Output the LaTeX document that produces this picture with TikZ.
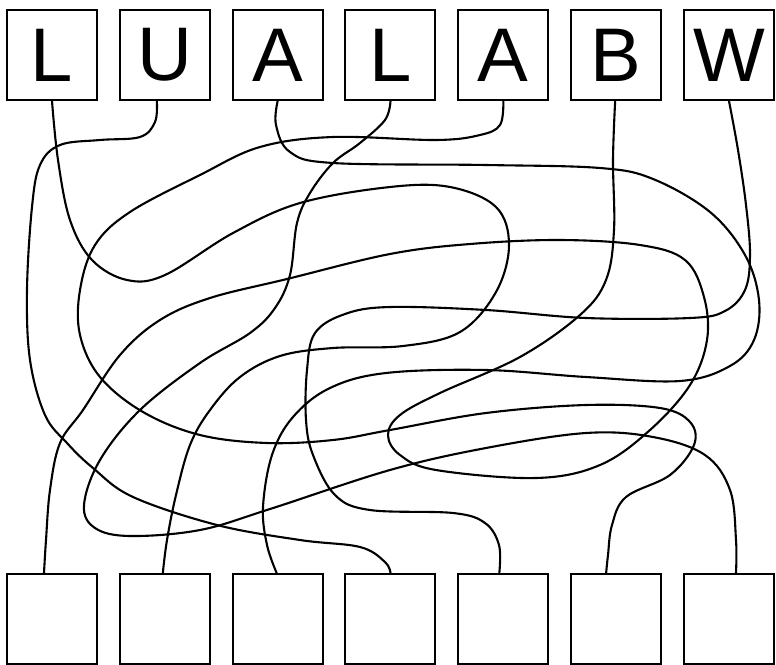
\documentclass[tikz,border=0pt]{standalone}
\usepackage{fontspec}
\setmainfont{Liberation Sans}
\begin{document}
\begin{tikzpicture}[x=1pt,y=-1pt,
  tbox/.style={draw,line width=2pt,minimum size=90pt,inner sep=0pt,font=\fontsize{76}{76}\selectfont},
  bbox/.style={draw,line width=2pt,minimum size=90pt,inner sep=0pt},
  wire/.style={line width=2.1pt,line join=round,line cap=round}]
\useasboundingbox (0,0) rectangle (776,664);
\foreach \i/\l in {1/L,2/U,3/A,4/L,5/A,6/B,7/W}{
  \node[tbox] (t\i) at ({52+112.83*(\i-1)},55) {\l};
  \node[bbox] (b\i) at ({52+112.83*(\i-1)},619) {};
}
% ports
\coordinate (p1) at (t1.south);
\coordinate (p2) at ([xshift=-8pt]t2.south);
\coordinate (p3) at (t3.south);
\coordinate (p4) at (t4.south);
\coordinate (p5) at (t5.south);
\coordinate (p6) at ([xshift=-1pt]t6.south);
\coordinate (p7) at (t7.south);
\coordinate (q1) at ([xshift=-8pt]b1.north);
\coordinate (q2) at ([xshift=-2pt]b2.north);
\coordinate (q3) at ([xshift=-1pt]b3.north);
\coordinate (q4) at (b4.north);
\coordinate (q5) at ([xshift=-4pt]b5.north);
\coordinate (q6) at ([xshift=-10pt]b6.north);
\coordinate (q7) at ([xshift=7pt]b7.north);
% L -> box 2
\draw[wire] plot[smooth,tension=0.6] coordinates {(p1) (58,160) (70,220) (92,260) (127,280) (165,275) (233,233) (300,203) (390,187) (450,187) (496,207) (509,245) (496,292) (460,332) (403,346) (333,348) (280,356) (240,377) (210,410) (190,445) (176,495) (167,540) (q2)};
% U -> box 4
\draw[wire] plot[smooth,tension=0.6] coordinates {(p2) (155,122) (140,137) (100,140) (60,145) (40,165) (32,207) (27,290) (30,360) (45,415) (67,443) (93,468) (133,497) (217,525) (300,540) (360,547) (385,562) (q4)};
% A -> box 3
\draw[wire] plot[smooth,tension=0.6] coordinates {(p3) (276,125) (290,152) (333,163) (486,165) (600,168) (653,179) (710,212) (745,255) (759,300) (754,340) (730,366) (680,381) (586,377) (486,370) (386,373) (330,388) (293,417) (272,455) (263,507) (267,545) (q3)};
% L -> box 7
\draw[wire] plot[smooth,tension=0.6] coordinates {(p4) (385,120) (360,143) (333,163) (310,193) (297,223) (290,275) (275,308) (250,333) (200,363) (140,410) (100,460) (84,505) (95,528) (130,536) (200,530) (270,509) (390,470) (486,448) (586,433) (653,437) (705,455) (730,490) (736,540) (q7)};
% A -> box 6
\draw[wire] plot[smooth,tension=0.6] coordinates {(p5) (500,125) (480,135) (436,140) (333,137) (260,147) (200,175) (130,212) (95,245) (80,290) (80,335) (100,377) (143,412) (200,435) (267,443) (333,440) (390,430) (486,413) (586,405) (660,408) (690,422) (694,445) (670,475) (626,497) (612,525) (608,555) (q6)};
% B -> box 1
\draw[wire] plot[smooth,tension=0.6] coordinates {(p6) (613,160) (614,230) (606,280) (580,315) (520,357) (440,393) (400,415) (388,435) (400,455) (436,470) (536,478) (600,465) (650,430) (690,385) (707,340) (704,297) (685,260) (640,245) (560,240) (470,244) (390,254) (287,279) (210,298) (160,320) (120,355) (83,410) (60,443) (50,490) (46,540) (q1)};
% W -> box 5
\draw[wire] plot[smooth,tension=0.6] coordinates {(p7) (738,150) (746,205) (750,255) (745,290) (725,311) (690,318) (586,318) (486,310) (390,307) (345,314) (315,333) (307,370) (306,420) (313,455) (335,495) (370,510) (453,513) (485,523) (499,545) (q5)};
\end{tikzpicture}
\end{document}
